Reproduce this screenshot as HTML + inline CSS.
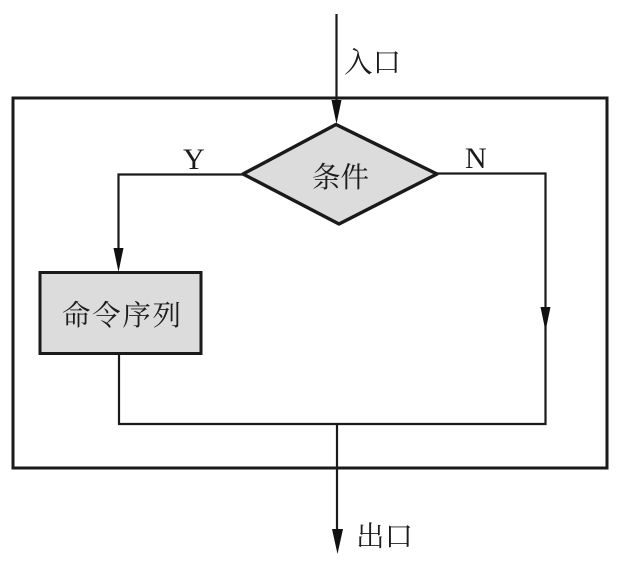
<!DOCTYPE html>
<html>
<head>
<meta charset="utf-8">
<style>
html,body{margin:0;padding:0;background:#fff;width:625px;height:562px;overflow:hidden}
svg{display:block}
text{fill:#1c1c1c}
.cn{font-family:"Liberation Serif","Noto Serif CJK SC",serif;font-size:28.5px}
.la{font-family:"Liberation Serif",serif;font-size:30px}
</style>
</head>
<body>
<svg width="625" height="562" viewBox="0 0 625 562" xmlns="http://www.w3.org/2000/svg">
<rect width="625" height="562" fill="#fff"/>
<rect x="13" y="98" width="594" height="370" fill="none" stroke="#1a1a1a" stroke-width="3"/>
<line x1="336.5" y1="14" x2="336.5" y2="110" stroke="#1a1a1a" stroke-width="2.2"/>
<polygon points="331.5,100 341.5,100 336.5,124" fill="#111"/>
<polygon points="336,124.5 437,174 339,224 243,174" fill="#dcdcdc" stroke="#1a1a1a" stroke-width="3.4" stroke-linejoin="round"/>
<polyline points="243,174.5 118.5,174.5 118.5,250" fill="none" stroke="#1a1a1a" stroke-width="2.2"/>
<polygon points="113.5,248 123.5,248 118.5,272" fill="#111"/>
<rect x="40" y="272.5" width="161" height="81" fill="#dcdcdc" stroke="#1a1a1a" stroke-width="3"/>
<polyline points="437,173.5 545.5,173.5 545.5,424 119,424 119,354" fill="none" stroke="#1a1a1a" stroke-width="2.2"/>
<polygon points="540.5,307 550.5,307 545.5,331" fill="#111"/>
<line x1="337" y1="424" x2="337" y2="535" stroke="#1a1a1a" stroke-width="2.2"/>
<polygon points="332,529 343,529 337.5,554" fill="#111"/>
<text class="cn" x="344" y="72" textLength="57" lengthAdjust="spacing">入口</text>
<text class="cn" x="312" y="187" textLength="57" lengthAdjust="spacing">条件</text>
<text class="cn" x="62" y="325" textLength="119" lengthAdjust="spacing">命令序列</text>
<text class="cn" x="356" y="546" textLength="57" lengthAdjust="spacing">出口</text>
<text class="la" x="183" y="169">Y</text>
<text class="la" x="465" y="168">N</text>
</svg>
</body>
</html>
